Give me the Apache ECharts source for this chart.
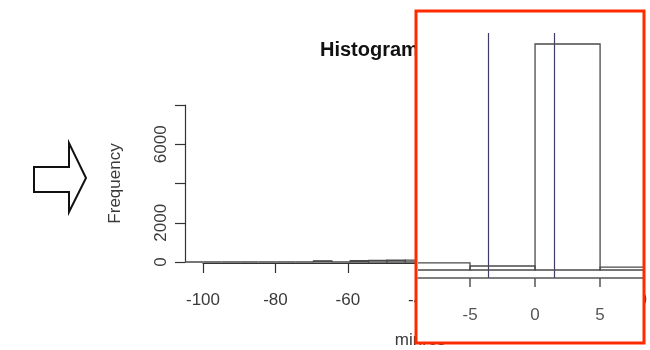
<!DOCTYPE html>
<html>
<head>
<meta charset="utf-8">
<script src="https://cdn.jsdelivr.net/npm/echarts@6/dist/echarts.min.js"></script>
<style>
  html, body { margin: 0; padding: 0; background: #fff; }
  #chart { width: 650px; height: 350px; }
</style>
</head>
<body>
<div id="chart"></div>
<script>
// histogram bins (width 5), left edges and counts
const binWidth = 5;
const binStarts = [-105, -100, -95, -90, -85, -80, -75, -70, -65, -60, -55, -50, -45,
                   -40, -35, -30, -25, -20, -15, -10, -5, 0, 5, 10, 15];
const binCounts = [0, 0, 0, 0, 0, 0, 0, 60, 0, 70, 80, 90, 100,
                   110, 120, 130, 150, 170, 200, 240, 136, 7700, 100, 60, 30];

// axis ticks
const mainXTicks = [-100, -80, -60, -40, -20, 0, 20];
const mainYLabels = [0, 2000, 6000];      // 4000 / 8000 labels dropped like R does
const zoomXTicks = [-5, 0, 5];

// vertical reference lines in the zoom
const refLines = [-3.6, 1.5];

const font = 'Liberation Sans, Arial, sans-serif';
const histData = binStarts.map((s, i) => [s, s + binWidth, binCounts[i]]);

function histRect(params, api) {
    let p0 = api.coord([api.value(0), 0]);
    let p1 = api.coord([api.value(1), api.value(2)]);
    return {
        type: 'rect',
        shape: {x: p0[0], y: p1[1], width: p1[0] - p0[0], height: p0[1] - p1[1]},
        style: {fill: 'none', stroke: '#4a4a4a', lineWidth: 1.3}
    };
}

let myChart = echarts.init(document.getElementById('chart'));
myChart.setOption({
    backgroundColor: '#ffffff',
    animation: false,
    title: {
        text: 'Histogram of minres',
        left: 315, top: 35,
        textStyle: {fontFamily: font, fontSize: 20, fontWeight: 'bold', color: '#111'}
    },
    grid: [
        {left: 185, right: 6, top: 105, bottom: 88},   // bars
        {left: 203, right: 6, top: 105, bottom: 88},   // R style x axis (-100..20)
        {left: 418, right: 7, top: 33, bottom: 72}     // zoom inset
    ],
    xAxis: [
        {gridIndex: 0, type: 'value', min: -105, max: 20, show: false},
        {
            gridIndex: 1, type: 'value', min: -100, max: 20, offset: 6,
            splitLine: {show: false},
            axisLine: {onZero: false, lineStyle: {color: '#333', width: 1.2}},
            axisTick: {length: 10, customValues: mainXTicks, lineStyle: {color: '#333', width: 1.2}},
            axisLabel: {customValues: mainXTicks, margin: 29, fontFamily: font, fontSize: 17, color: '#3a3a3a'},
            name: 'minres', nameLocation: 'middle', nameGap: 69,
            nameTextStyle: {fontFamily: font, fontSize: 17, color: '#3a3a3a'}
        },
        {
            gridIndex: 2, type: 'value', min: -9, max: 8.3, z: 60,
            splitLine: {show: false},
            axisLine: {onZero: false, lineStyle: {color: '#555', width: 1.5}},
            axisTick: {length: 9, customValues: zoomXTicks, lineStyle: {color: '#555', width: 1.5}},
            axisLabel: {customValues: zoomXTicks, margin: 29, fontFamily: font, fontSize: 17, color: '#555'}
        }
    ],
    yAxis: [
        {
            gridIndex: 0, type: 'value', min: 0, max: 8000, interval: 2000,
            splitLine: {show: false},
            axisLine: {show: true, onZero: false, lineStyle: {color: '#333', width: 1.2}},
            axisTick: {show: true, length: 10, lineStyle: {color: '#333', width: 1.2}},
            axisLabel: {
                rotate: 90, margin: 15, fontFamily: font, fontSize: 17, color: '#3a3a3a',
                formatter: function (v) {
                    return mainYLabels.indexOf(v) >= 0 ? String(v) : '';
                }
            },
            name: 'Frequency', nameLocation: 'middle', nameGap: 61,
            nameTextStyle: {fontFamily: font, fontSize: 17, color: '#3a3a3a'}
        },
        {gridIndex: 1, type: 'value', min: 0, max: 8000, show: false},
        {gridIndex: 2, type: 'value', min: -272, max: 8075, show: false}
    ],
    graphic: [
        // white inset panel + red frame
        {type: 'rect', z: 50, shape: {x: 416, y: 11, width: 228, height: 332},
         style: {fill: '#fff', stroke: 'none'}},
        {type: 'rect', z: 70, shape: {x: 416, y: 11, width: 228, height: 332},
         style: {fill: 'none', stroke: '#ff2a00', lineWidth: 3}},
        // outlined arrow at the left
        {type: 'polygon', z: 10,
         shape: {points: [[34, 167], [69, 167], [69, 143], [86, 178], [69, 212], [69, 192], [34, 192]]},
         style: {fill: '#fff', stroke: '#111', lineWidth: 2}}
    ],
    series: [
        {
            type: 'custom', xAxisIndex: 0, yAxisIndex: 0, z: 2,
            renderItem: histRect, data: histData, encode: {x: [0, 1], y: 2}
        },
        {
            type: 'custom', xAxisIndex: 2, yAxisIndex: 2, z: 60, clip: true,
            renderItem: histRect, data: histData, encode: {x: [0, 1], y: 2},
            markLine: {
                silent: true, symbol: 'none', label: {show: false}, z: 60,
                lineStyle: {color: '#3c3c66', width: 1.2, type: 'solid'},
                data: refLines.map(v => ({xAxis: v}))
            }
        }
    ]
});
</script>
</body>
</html>
